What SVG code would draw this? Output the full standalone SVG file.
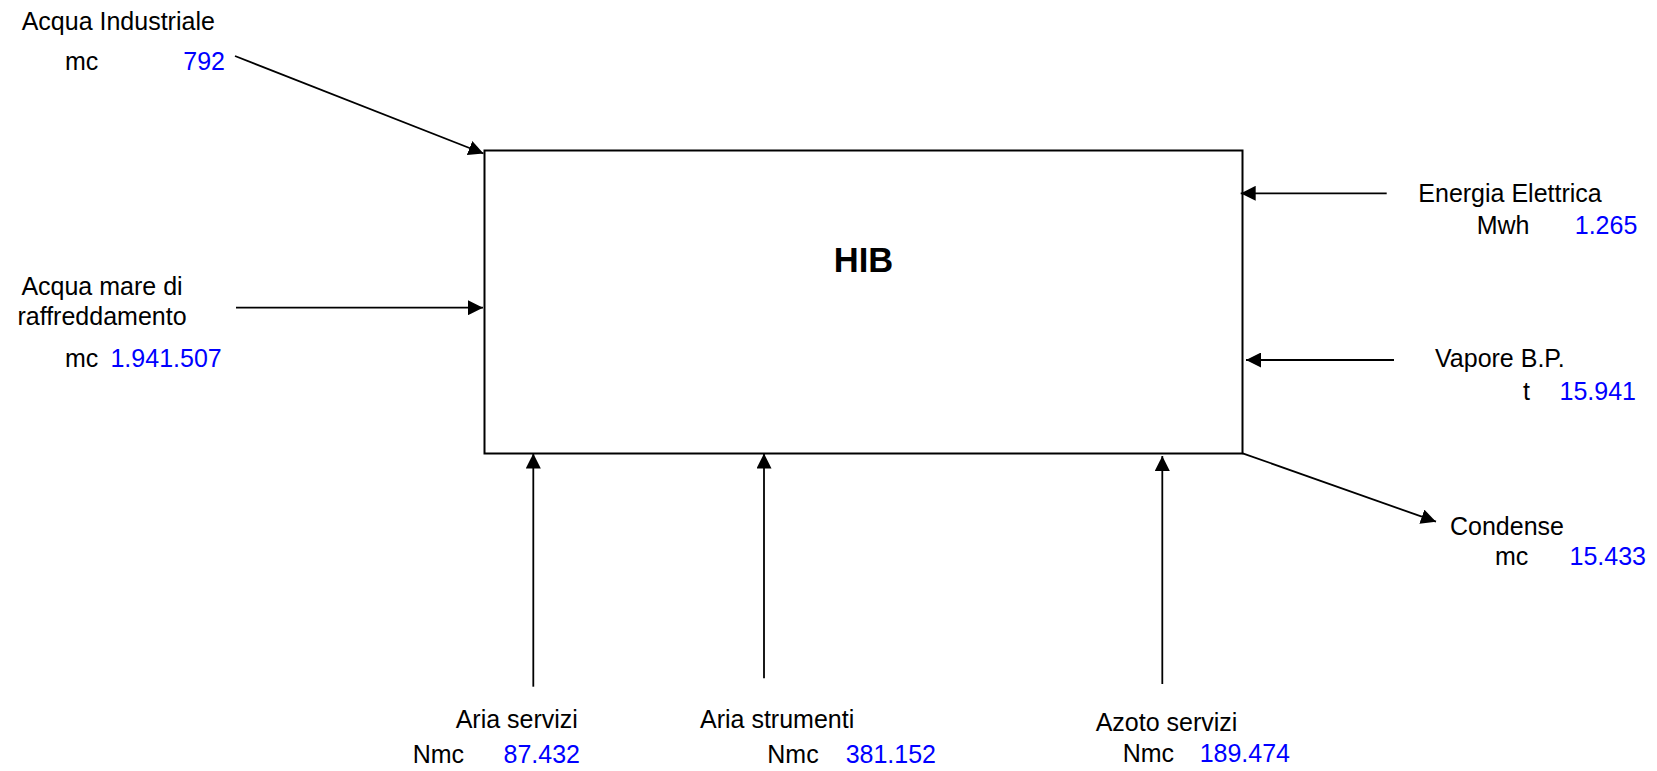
<svg xmlns="http://www.w3.org/2000/svg" width="1657" height="771" viewBox="0 0 1657 771">
<style>
text{font-family:"Liberation Sans",Arial,sans-serif;font-size:25px;fill:#000}
.v{fill:#0000FF}
.e{text-anchor:end}
.m{text-anchor:middle}
.c{stroke:#000;stroke-width:1.8;fill:none;marker-end:url(#ah)}
</style>
<defs>
<marker id="ah" markerUnits="userSpaceOnUse" markerWidth="15" markerHeight="15" refX="15" refY="7.5" orient="auto">
<path d="M0,0 L15,7.5 L0,15 z" fill="#000"/>
</marker>
</defs>
<rect width="1657" height="771" fill="#fff"/>
<g id="hib">
<rect x="484.5" y="150.5" width="758" height="303" fill="#fff" stroke="#000" stroke-width="2"/>
<text x="863.5" y="271.5" class="m" style="font-weight:bold;font-size:34.5px">HIB</text>
</g>
<g id="connectors">
<line class="c" x1="235" y1="56" x2="483.5" y2="153.5"/>
<line class="c" x1="236" y1="307.7" x2="483" y2="307.7"/>
<line class="c" x1="1386.7" y1="193.3" x2="1240.7" y2="193.3"/>
<line class="c" x1="1394" y1="360" x2="1246" y2="360"/>
<line class="c" x1="1242.7" y1="453.3" x2="1436" y2="521.7"/>
<line class="c" x1="533.3" y1="686.7" x2="533.3" y2="453.5"/>
<line class="c" x1="764" y1="678.3" x2="764" y2="453.5"/>
<line class="c" x1="1162.3" y1="684" x2="1162.3" y2="456"/>
</g>
<g id="acqua-industriale">
<text x="21.7" y="30">Acqua Industriale</text>
<text x="65" y="70">mc</text>
<text x="225" y="70" class="v e">792</text>
</g>
<g id="acqua-mare">
<text x="102" y="295" class="m">Acqua mare di</text>
<text x="102" y="325" class="m">raffreddamento</text>
<text x="65" y="366.7">mc</text>
<text x="221.7" y="366.7" class="v e">1.941.507</text>
</g>
<g id="energia-elettrica">
<text x="1418.3" y="201.7">Energia Elettrica</text>
<text x="1476.7" y="234">Mwh</text>
<text x="1637.3" y="234" class="v e">1.265</text>
</g>
<g id="vapore">
<text x="1435" y="366.7">Vapore B.P.</text>
<text x="1523" y="400">t</text>
<text x="1636" y="400" class="v e">15.941</text>
</g>
<g id="condense">
<text x="1450" y="535">Condense</text>
<text x="1495" y="565">mc</text>
<text x="1646" y="565" class="v e">15.433</text>
</g>
<g id="aria-servizi">
<text x="455.7" y="728.3">Aria servizi</text>
<text x="412.7" y="762.7">Nmc</text>
<text x="580" y="762.7" class="v e">87.432</text>
</g>
<g id="aria-strumenti">
<text x="700" y="728.3">Aria strumenti</text>
<text x="767.3" y="762.7">Nmc</text>
<text x="936" y="762.7" class="v e">381.152</text>
</g>
<g id="azoto-servizi">
<text x="1095.7" y="730.7">Azoto servizi</text>
<text x="1122.7" y="761.7">Nmc</text>
<text x="1290" y="761.7" class="v e">189.474</text>
</g>
</svg>
